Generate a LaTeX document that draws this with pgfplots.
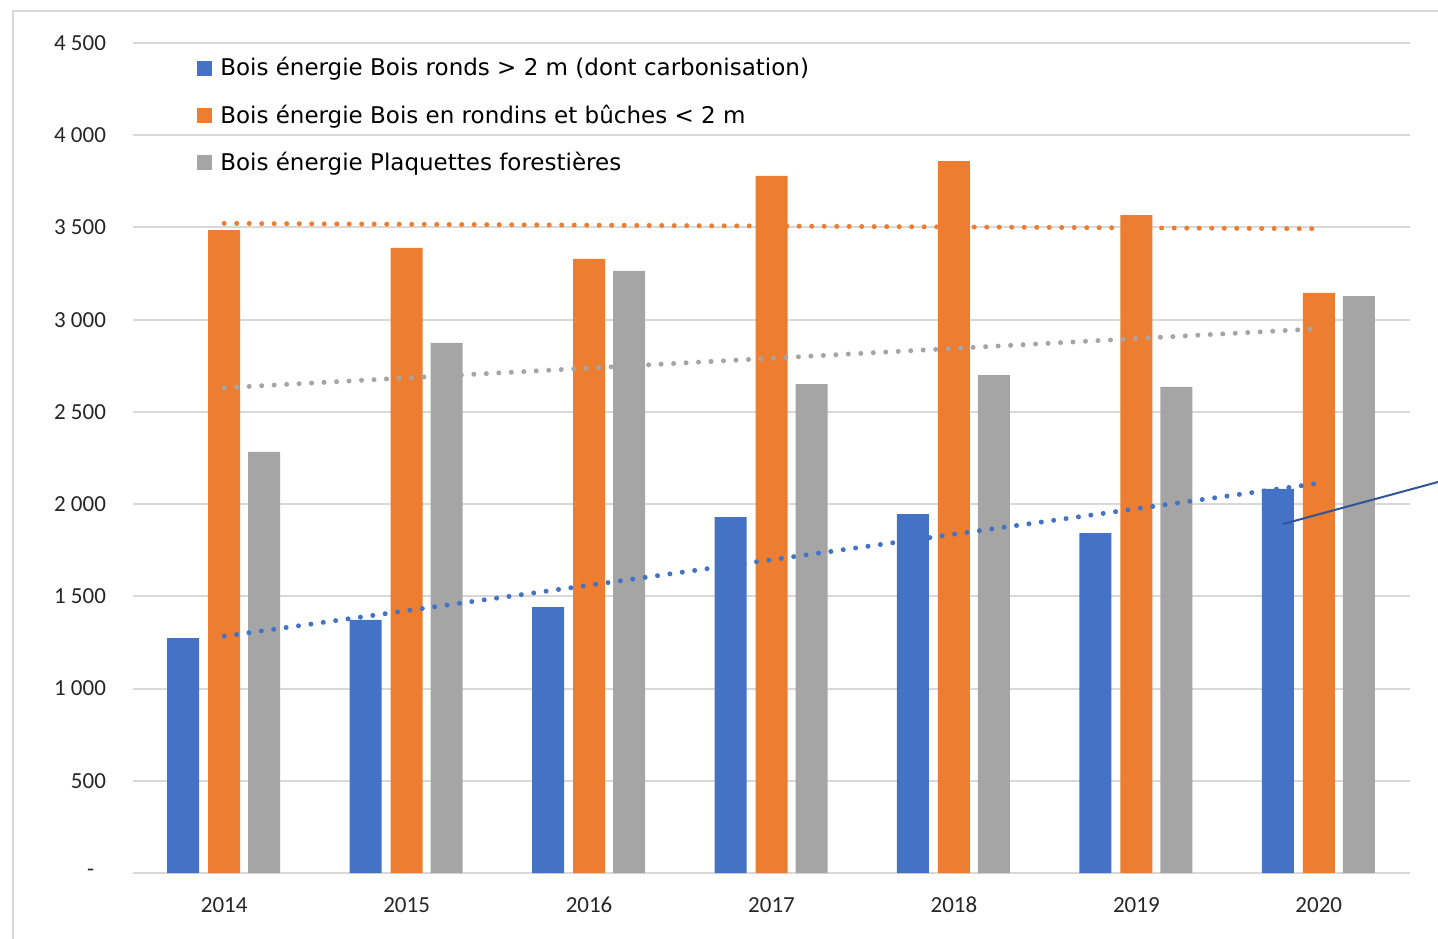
\documentclass[border=0pt]{standalone}
\usepackage{pgfplots}
\pgfplotsset{compat=1.18}
\usepackage{fontspec}
\setmainfont{Carlito}
\newfontfamily\legfont{DejaVu Sans}
\definecolor{cblue}{HTML}{4472C4}
\definecolor{corange}{HTML}{ED7D31}
\definecolor{cgray}{HTML}{A5A5A5}
\definecolor{cgrid}{HTML}{D9D9D9}
\definecolor{cline}{HTML}{2F5597}

\begin{document}
\begin{tikzpicture}
% 1 px of the reference = 0.5pt
\path[use as bounding box] (-66.5pt,-32.5pt) rectangle (652.5pt,436.5pt);
\draw[cgrid, line width=1pt] (-60pt,-40pt) -- (-60pt,431pt) -- (660pt,431pt);
\begin{axis}[
    scale only axis,
    width=638.5pt, height=415pt,
    xmin=-0.5, xmax=6.5,
    ymin=0, ymax=4500,
    xtick={0,...,6},
    xticklabels={2014,2015,2016,2017,2018,2019,2020},
    ytick={0,500,...,4500},
    yticklabels={-\hphantom{0},500,1 000,1 500,2 000,2 500,3 000,3 500,4 000,4 500},
    major tick length=0pt,
    axis line style={draw=none},
    ymajorgrids,
    grid style={cgrid, line width=1pt},
    tick label style={font=\fontsize{11.5}{13}\selectfont, text=black!85},
    xticklabel style={yshift=-8.5pt},
    yticklabel style={xshift=-10pt},
    legend style={at={(0.05,0.988)}, anchor=north west, draw=none, fill=none,
        font=\legfont\fontsize{11.5}{13}\selectfont, row sep=9pt, inner sep=0pt,
        /tikz/column sep=2pt},
    legend cell align=left,
    legend image code/.code={\fill[#1] (0pt,-3.75pt) rectangle (7.5pt,3.75pt);},
]
% bars
\addplot[ybar, bar width=16pt, bar shift=-20.5pt, fill=cblue, draw=none]
  coordinates {(0,1274) (1,1372) (2,1442) (3,1930) (4,1946) (5,1843) (6,2082)};
\addplot[ybar, bar width=16pt, bar shift=0pt, fill=corange, draw=none]
  coordinates {(0,3486) (1,3389) (2,3329) (3,3779) (4,3860) (5,3567) (6,3145)};
\addplot[ybar, bar width=16pt, bar shift=20pt, fill=cgray, draw=none]
  coordinates {(0,2283) (1,2874) (2,3264) (3,2651) (4,2700) (5,2635) (6,3128)};
\legend{Bois énergie Bois ronds > 2 m (dont carbonisation),
        Bois énergie Bois en rondins et bûches < 2 m,
        Bois énergie Plaquettes forestières}
% linear trend lines (on top of the bars)
\addplot[forget plot, cblue, line width=2.5pt, line cap=round, dash pattern=on 0pt off 6.25pt] coordinates {(0,1284) (6,2113)};
\addplot[forget plot, corange, line width=2.5pt, line cap=round, dash pattern=on 0pt off 6.25pt] coordinates {(0,3522) (6,3493)};
\addplot[forget plot, cgray, line width=2.5pt, line cap=round, dash pattern=on 0pt off 6.25pt] coordinates {(0,2631) (6,2951)};
\end{axis}
\draw[cline, line width=1pt] (575pt,174.5pt) -- (652.5pt,195.5pt);
\end{tikzpicture}
\end{document}
